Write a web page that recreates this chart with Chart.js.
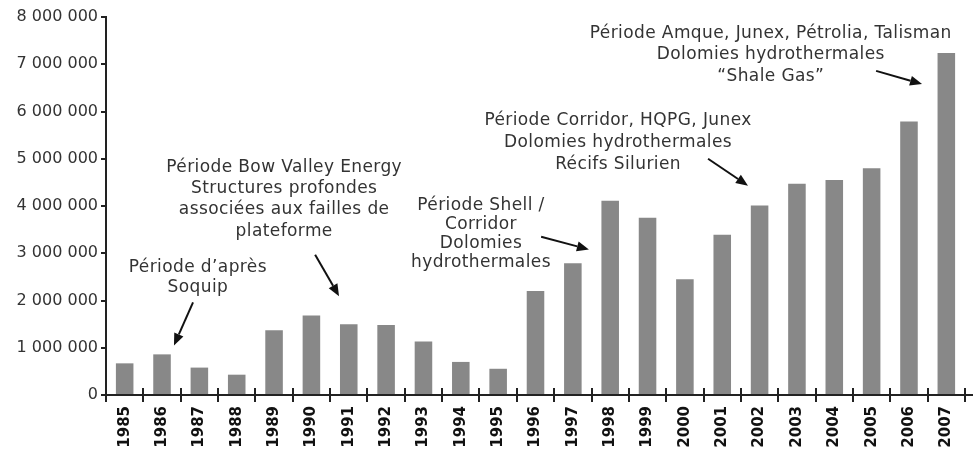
<!DOCTYPE html>
<html>
<head>
<meta charset="utf-8">
<script src="https://cdn.jsdelivr.net/npm/chart.js@4/dist/chart.umd.min.js"></script>
<style>
  html, body { margin: 0; padding: 0; background: #fff; }
  #wrap { width: 974px; height: 450px; position: relative; }
</style>
</head>
<body>
<div id="wrap"><canvas id="c"></canvas></div>
<script>
const years = ['1985','1986','1987','1988','1989','1990','1991','1992','1993','1994','1995','1996',
               '1997','1998','1999','2000','2001','2002','2003','2004','2005','2006','2007'];
const values = [670000, 860000, 580000, 430000, 1370000, 1680000, 1500000, 1480000, 1130000, 700000, 555000, 2200000,
                2790000, 4110000, 3750000, 2450000, 3390000, 4010000, 4470000, 4550000, 4800000, 5790000, 7240000];

// annotation texts, anchored in data units (category index, value)
const noteTexts = [
  ["Période d’après", "Soquip"],
  ["Période Bow Valley Energy", "Structures profondes", "associées aux failles de", "plateforme"],
  ["Période Shell /", "Corridor", "Dolomies", "hydrothermales"],
  ["Période Corridor, HQPG, Junex", "Dolomies hydrothermales", "Récifs Silurien"],
  ["Période Amque, Junex, Pétrolia, Talisman", "Dolomies hydrothermales", "“Shale Gas”"]
];
const noteX = [1.96, 4.27, 9.54, 13.21, 17.30];
const noteY = [2700000, 4820000, 4010000, 5800000, 7650000];
const noteGap = [20, 21.3, 19, 21.7, 21.4];
// arrows: [fromIndex, fromValue, toIndex, toValue]
const arrows = [
  [1.83, 1960000, 1.32, 1050000],
  [5.10, 2970000, 5.74, 2090000],
  [11.15, 3350000, 12.43, 3080000],
  [15.62, 5000000, 16.69, 4430000],
  [20.12, 6860000, 21.35, 6580000]
];

const FONT = '"DejaVu Sans", sans-serif';

function fmt(v) {
  return String(v).replace(/\B(?=(\d{3})+(?!\d))/g, ' ');
}

function xPix(scale, idx) {
  const w = scale.width / years.length;
  return scale.left + (idx + 0.5) * w;
}

const decor = {
  id: 'decor',
  afterDraw(chart) {
    const ctx = chart.ctx;
    const xs = chart.scales.x, ys = chart.scales.y;
    ctx.save();
    // upper half of the x tick marks and axis extension
    ctx.strokeStyle = '#222';
    ctx.lineWidth = 2;
    const w = xs.width / years.length;
    for (let i = 1; i <= years.length; i++) {
      const x = Math.round(xs.left + i * w);
      ctx.beginPath();
      ctx.moveTo(x, ys.bottom);
      ctx.lineTo(x, ys.bottom - 7);
      ctx.stroke();
    }
    ctx.beginPath();
    ctx.moveTo(xs.right, ys.bottom);
    ctx.lineTo(xs.right + 8, ys.bottom);
    ctx.stroke();

    // annotation texts
    ctx.fillStyle = '#333';
    ctx.font = '17px ' + FONT;
    ctx.letterSpacing = '0.4px';
    ctx.textAlign = 'center';
    ctx.textBaseline = 'middle';
    noteTexts.forEach((lines, k) => {
      const cx = xPix(xs, noteX[k]);
      const cy = ys.getPixelForValue(noteY[k]);
      lines.forEach((t, j) => ctx.fillText(t, cx, cy + j * noteGap[k]));
    });
    ctx.letterSpacing = '0px';

    // arrows
    ctx.strokeStyle = '#111';
    ctx.fillStyle = '#111';
    ctx.lineWidth = 2;
    arrows.forEach(a => {
      const x1 = xPix(xs, a[0]), y1 = ys.getPixelForValue(a[1]);
      const x2 = xPix(xs, a[2]), y2 = ys.getPixelForValue(a[3]);
      const ang = Math.atan2(y2 - y1, x2 - x1);
      const hl = 12, hw = 5;
      const bx = x2 - hl * Math.cos(ang), by = y2 - hl * Math.sin(ang);
      ctx.beginPath();
      ctx.moveTo(x1, y1);
      ctx.lineTo(bx, by);
      ctx.stroke();
      ctx.beginPath();
      ctx.moveTo(x2, y2);
      ctx.lineTo(bx + hw * Math.sin(ang), by - hw * Math.cos(ang));
      ctx.lineTo(bx - hw * Math.sin(ang), by + hw * Math.cos(ang));
      ctx.closePath();
      ctx.fill();
    });
    ctx.restore();
  }
};

new Chart(document.getElementById('c'), {
  type: 'bar',
  data: {
    labels: years,
    datasets: [{
      data: values,
      backgroundColor: '#888888',
      borderWidth: 0,
      barPercentage: 0.47,
      categoryPercentage: 1
    }]
  },
  options: {
    responsive: true,
    maintainAspectRatio: false,
    animation: false,
    layout: { padding: { top: 17, right: 9, left: 10, bottom: 0 } },
    plugins: { legend: { display: false }, tooltip: { enabled: false } },
    scales: {
      x: {
        grid: { offset: true, drawOnChartArea: false, drawTicks: true, tickLength: 7, color: '#222', lineWidth: 2 },
        border: { display: true, color: '#222', width: 2 },
        ticks: {
          minRotation: 90, maxRotation: 90, autoSkip: false, padding: 4,
          color: '#111', font: { family: FONT, size: 15, weight: 'bold' }
        },
        afterFit: s => { s.height = 55; }
      },
      y: {
        min: 0, max: 8000000,
        grid: { drawOnChartArea: false, drawTicks: true, tickLength: 5, color: '#222', lineWidth: 2 },
        border: { display: true, color: '#222', width: 2 },
        ticks: {
          stepSize: 1000000, padding: 3, color: '#333',
          font: { family: FONT, size: 16 },
          callback: v => fmt(v)
        },
        afterFit: s => { s.width = 96; }
      }
    }
  },
  plugins: [decor]
});
</script>
</body>
</html>
